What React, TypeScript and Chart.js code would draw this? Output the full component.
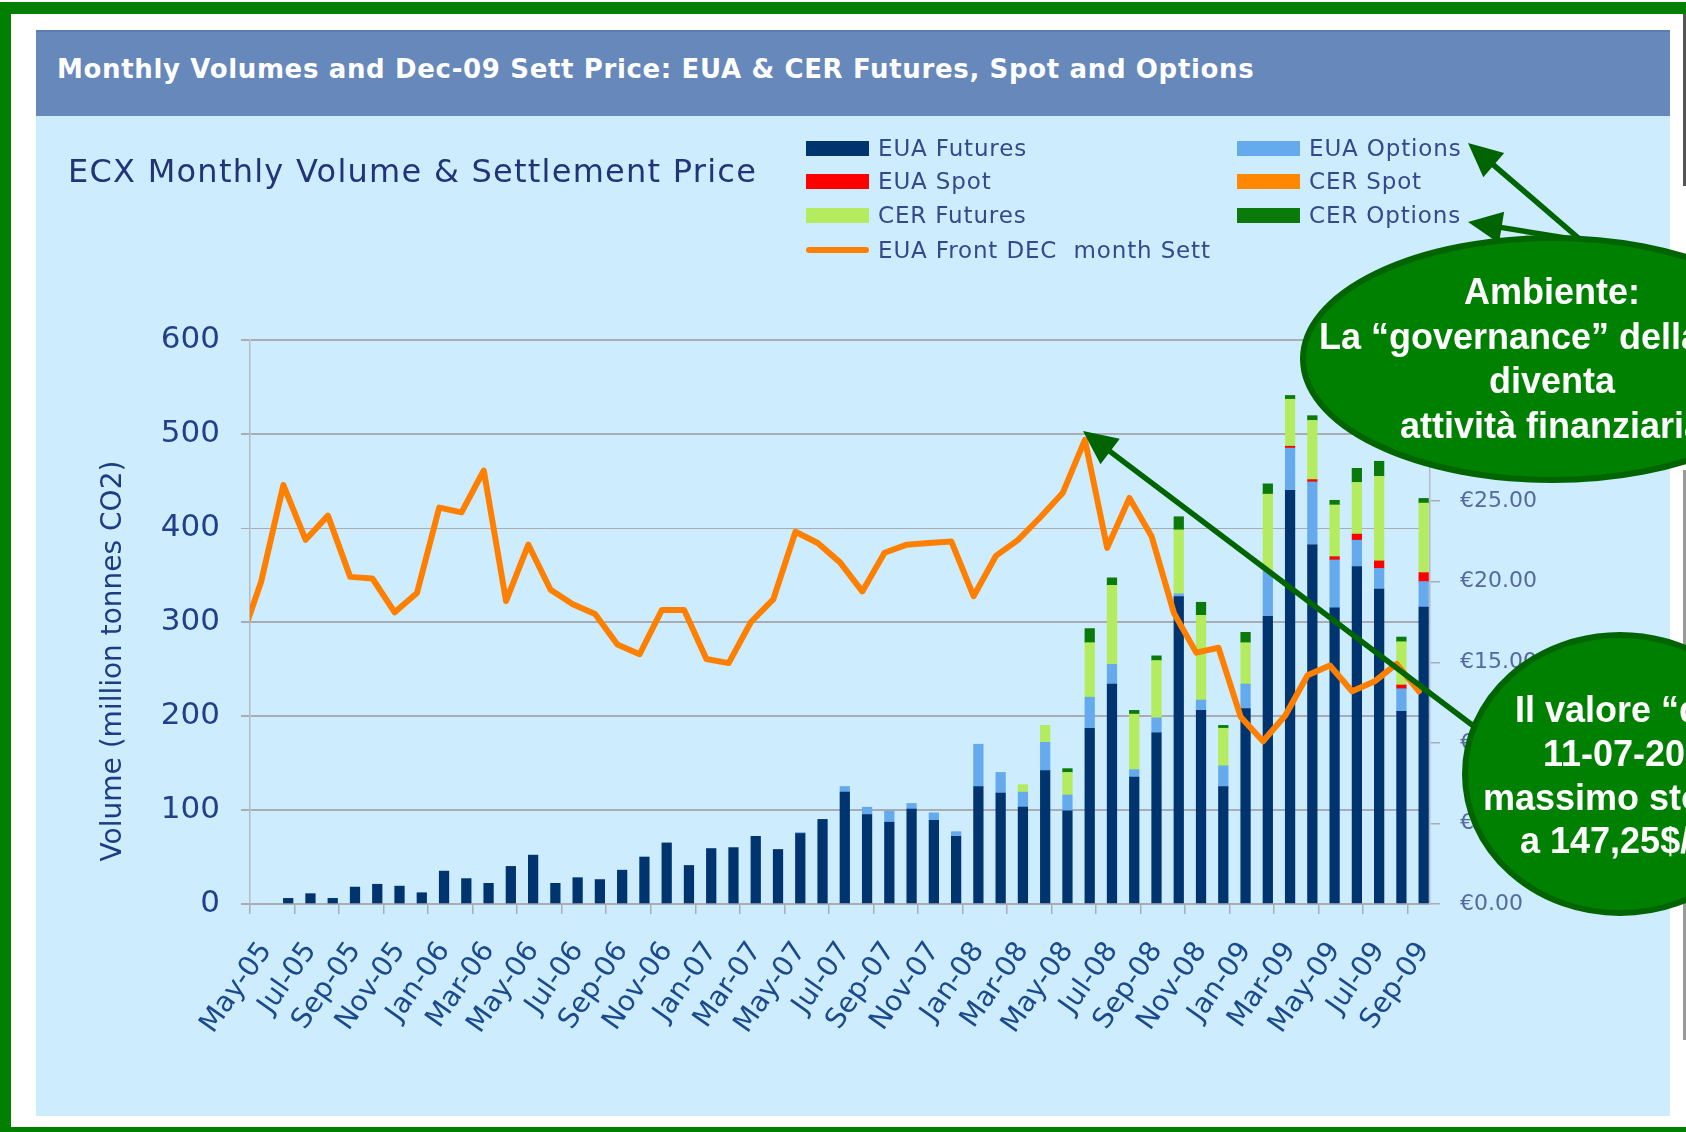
import React, { useEffect, useRef } from 'react';
import { Chart, registerables } from 'chart.js';

Chart.register(...registerables);

// ---------- DATA ----------
const months = [
  'May-05', 'Jun-05', 'Jul-05', 'Aug-05', 'Sep-05', 'Oct-05', 'Nov-05', 'Dec-05',
  'Jan-06', 'Feb-06', 'Mar-06', 'Apr-06', 'May-06', 'Jun-06', 'Jul-06', 'Aug-06', 'Sep-06', 'Oct-06', 'Nov-06', 'Dec-06',
  'Jan-07', 'Feb-07', 'Mar-07', 'Apr-07', 'May-07', 'Jun-07', 'Jul-07', 'Aug-07', 'Sep-07', 'Oct-07', 'Nov-07', 'Dec-07',
  'Jan-08', 'Feb-08', 'Mar-08', 'Apr-08', 'May-08', 'Jun-08', 'Jul-08', 'Aug-08', 'Sep-08', 'Oct-08', 'Nov-08', 'Dec-08',
  'Jan-09', 'Feb-09', 'Mar-09', 'Apr-09', 'May-09', 'Jun-09', 'Jul-09', 'Aug-09', 'Sep-09',
];

// million tonnes CO2
const euaFutures = [
  0, 6, 11, 6, 18, 21, 19, 12,
  35, 27, 22, 40, 52, 22, 28, 26, 36, 50, 65, 41,
  59, 60, 72, 58, 75, 90, 119, 95, 87, 101, 89, 72,
  125, 118, 103, 142, 99, 187, 234, 135, 182, 327, 206, 125,
  208, 306, 440, 382, 315, 359, 335, 205, 316,
];
const euaOptions = [
  0, 0, 0, 0, 0, 0, 0, 0,
  0, 0, 0, 0, 0, 0, 0, 0, 0, 0, 0, 0,
  0, 0, 0, 0, 1, 0, 6, 8, 12, 6, 8, 5,
  45, 22, 16, 30, 17, 33, 21, 8, 16, 3, 11, 22,
  26, 48, 45, 67, 51, 28, 22, 24, 27,
];
const euaSpot = [
  0, 0, 0, 0, 0, 0, 0, 0,
  0, 0, 0, 0, 0, 0, 0, 0, 0, 0, 0, 0,
  0, 0, 0, 0, 0, 0, 0, 0, 0, 0, 0, 0,
  0, 0, 0, 0, 0, 0, 0, 0, 0, 0, 0, 0,
  0, 0, 2, 2.5, 3.5, 6.5, 8, 4, 9.5,
];
const cerSpot = [
  0, 0, 0, 0, 0, 0, 0, 0,
  0, 0, 0, 0, 0, 0, 0, 0, 0, 0, 0, 0,
  0, 0, 0, 0, 0, 0, 0, 0, 0, 0, 0, 0,
  0, 0, 0, 0, 0, 0, 0, 0, 0, 0, 0, 0,
  0, 0, 0, 0, 0, 0, 0, 0, 0,
];
const cerFutures = [
  0, 0, 0, 0, 0, 0, 0, 0,
  0, 0, 0, 0, 0, 0, 0, 0, 0, 0, 0, 0,
  0, 0, 0, 0, 0, 0, 0, 0, 0, 0, 0, 0,
  0, 0, 8, 18, 24, 58, 84, 59, 61, 68, 90, 40,
  44, 82, 50, 63, 55, 55, 90, 46, 74,
];
const cerOptions = [
  0, 0, 0, 0, 0, 0, 0, 0,
  0, 0, 0, 0, 0, 0, 0, 0, 0, 0, 0, 0,
  0, 0, 0, 0, 0, 0, 0, 0, 0, 0, 0, 0,
  0, 0, 0, 0, 4, 15, 8, 4, 5, 14, 14, 3,
  11, 11, 4, 5, 5, 15, 16, 5, 5,
];

// EUA Front DEC month settlement, EUR/t  (Apr-05 .. Sep-09; Apr-05 lies just left of the plot)
const priceMonths = ['Apr-05', ...months];
const euaDecSett = [
  16.0,
  20.0, 26.0, 22.6, 24.1, 20.3, 20.2, 18.1, 19.3,
  24.6, 24.3, 26.9, 18.8, 22.3, 19.5, 18.6, 18.0, 16.1, 15.5, 18.25, 18.25,
  15.2, 14.95, 17.5, 18.9, 23.1, 22.4, 21.2, 19.4, 21.8, 22.3, 22.4, 22.5,
  19.1, 21.6, 22.6, 24.0, 25.5, 28.8, 22.1, 25.2, 22.8, 18.05, 15.6, 15.9,
  11.6, 10.1, 11.7, 14.2, 14.8, 13.2, 13.8, 14.9, 13.2,
];

const volumeTicks = { min: 0, max: 600, step: 100 };
const priceTicks = { min: 0, max: 35, step: 5 };

const seriesNames = {
  euaFut: 'EUA Futures',
  euaOpt: 'EUA Options',
  euaSpot: 'EUA Spot',
  cerSpot: 'CER Spot',
  cerFut: 'CER Futures',
  cerOpt: 'CER Options',
  line: 'EUA Front DEC  month Sett',
};

const colors = {
  euaFut: '#00346F',
  euaOpt: '#66AAEE',
  euaSpot: '#FF0000',
  cerSpot: '#FF8800',
  cerFut: '#B4EB5F',
  cerOpt: '#0A7A0A',
  line: '#FF8000',
};

// ---------- LAYOUT CONSTANTS ----------
const PANEL_L = 36;
const PANEL_T = 116;
const CANVAS_W = 1634;
const CANVAS_H = 1000;
const GRID = '#A8ADB3';
const NAVY = '#22408A';

function ChartCanvas() {
  const ref = useRef<HTMLCanvasElement | null>(null);
  useEffect(() => {
    if (!ref.current) return;
    Chart.defaults.font.family = "'DejaVu Sans', Verdana, sans-serif";
    const bar = (key: keyof typeof colors, data: number[]) => ({
      type: 'bar' as const,
      label: (seriesNames as any)[key],
      // empty months are left out so that no hairline is drawn for them
      data: data.map((v) => (v === 0 ? null : v)),
      backgroundColor: (colors as any)[key],
      borderWidth: 0,
      stack: 'vol',
      xAxisID: 'x',
      yAxisID: 'y',
      order: 1,
      barThickness: 9.6,
    });
    const chart = new Chart(ref.current, {
      type: 'bar',
      data: {
        labels: months,
        datasets: [
          {
            type: 'line',
            label: seriesNames.line,
            data: euaDecSett.map((v, k) => ({ x: k - 1, y: v, m: priceMonths[k] })),
            xAxisID: 'x2',
            yAxisID: 'y1',
            borderColor: colors.line,
            backgroundColor: colors.line,
            borderWidth: 6,
            pointRadius: 0,
            tension: 0,
            borderJoinStyle: 'round',
            borderCapStyle: 'round',
            clip: 0,
            order: 0,
          } as any,
          bar('euaFut', euaFutures),
          bar('euaOpt', euaOptions),
          bar('euaSpot', euaSpot),
          bar('cerSpot', cerSpot),
          bar('cerFut', cerFutures),
          bar('cerOpt', cerOptions),
        ],
      },
      options: {
        animation: false,
        responsive: false,
        maintainAspectRatio: false,
        layout: { padding: { top: 224, left: 0, right: 0, bottom: 0 } },
        plugins: {
          legend: { display: false },
          title: { display: false },
          tooltip: { enabled: false },
        },
        scales: {
          x: {
            type: 'category',
            stacked: true,
            offset: true,
            ticks: {
              autoSkip: false,
              minRotation: 55,
              maxRotation: 55,
              padding: 22,
              labelOffset: 5,
              color: '#1B4A8C',
              font: { size: 28 },
              callback: (_v: any, i: number) => (i % 2 === 0 ? months[i] : ''),
            },
            grid: {
              offset: true,
              drawOnChartArea: false,
              tickLength: 10,
              lineWidth: 1.5,
              tickColor: (c: any) => (typeof c.index === 'number' && c.index % 2 === 0 ? GRID : 'rgba(0,0,0,0)'),
            },
            border: { display: true, color: GRID, width: 2 },
            afterFit: (s: any) => { s.height = 212; },
          },
          x2: {
            type: 'linear',
            display: false,
            offset: false,
            grid: { offset: false },
            bounds: 'data',
            min: -0.5,
            max: months.length - 0.5,
            afterDataLimits: (s: any) => { s.min = -0.5; s.max = months.length - 0.5; },
          },
          y: {
            position: 'left',
            stacked: true,
            min: volumeTicks.min,
            max: volumeTicks.max,
            ticks: {
              stepSize: volumeTicks.step,
              padding: 21,
              color: NAVY,
              font: { size: 31 },
            },
            grid: {
              color: GRID,
              lineWidth: (c: any) => (c.tick && c.tick.value === 400 ? 1 : 2),
              tickLength: 9,
              tickColor: GRID,
            },
            border: { display: true, color: '#B6BAC6', width: 1.5 },
            afterFit: (s: any) => { s.width = 214; },
          },
          y1: {
            position: 'right',
            min: priceTicks.min,
            max: priceTicks.max,
            ticks: {
              stepSize: priceTicks.step,
              padding: 20,
              color: '#56699E',
              font: { size: 22 },
              callback: (v: any) => '€' + Number(v).toFixed(2),
            },
            grid: { drawOnChartArea: false, tickLength: 10, tickColor: GRID, lineWidth: 1.5 },
            border: { display: true, color: '#B6BAC6', width: 1.5 },
            afterFit: (s: any) => { s.width = 240; },
          },
        },
      } as any,
    });
    return () => chart.destroy();
  }, []);
  return (
    <canvas
      ref={ref}
      width={CANVAS_W}
      height={CANVAS_H}
      style={{ position: 'absolute', left: 0, top: 0, width: CANVAS_W, height: CANVAS_H }}
    />
  );
}

function LegendItem({ x, y, color, text, line }: { x: number; y: number; color: string; text: string; line?: boolean }) {
  return (
    <div style={{ position: 'absolute', left: x, top: y - 16, height: 32, display: 'flex', alignItems: 'center', whiteSpace: 'pre' }}>
      <div style={{ width: 63, height: line ? 6 : 15, background: color, borderRadius: line ? 3 : 0 }} />
      <span style={{ marginLeft: 9, fontSize: 23, letterSpacing: 0.85, color: '#36488C', fontFamily: "'DejaVu Sans', sans-serif", whiteSpace: 'pre' }}>{text}</span>
    </div>
  );
}

function Arrow({ x1, y1, x2, y2 }: { x1: number; y1: number; x2: number; y2: number }) {
  const ang = Math.atan2(y2 - y1, x2 - x1);
  const L = 34, W = 16;
  const bx = x2 - L * Math.cos(ang), by = y2 - L * Math.sin(ang);
  const px = -Math.sin(ang) * W, py = Math.cos(ang) * W;
  return (
    <g>
      <line x1={x1} y1={y1} x2={bx + 4 * Math.cos(ang)} y2={by + 4 * Math.sin(ang)} stroke="#006400" strokeWidth={5.5} />
      <polygon points={`${x2},${y2} ${bx + px},${by + py} ${bx - px},${by - py}`} fill="#006400" />
    </g>
  );
}

const bubbleText: React.CSSProperties = {
  position: 'absolute',
  color: '#FFFFFF',
  fontFamily: "'Liberation Sans', Arial, sans-serif",
  fontWeight: 'bold',
  fontSize: 36,
  lineHeight: '44.5px',
  whiteSpace: 'nowrap',
};

export default function App() {
  const green = '#007F00';
  return (
    <div style={{ position: 'fixed', left: 0, top: 0, width: 1686, height: 1132, background: '#FFFFFF', overflow: 'hidden' }}>
      {/* green frame */}
      <div style={{ position: 'absolute', left: 0, top: 2, width: 1686, height: 12, background: green }} />
      <div style={{ position: 'absolute', left: 0, top: 2, width: 11, height: 1130, background: green }} />
      <div style={{ position: 'absolute', left: 0, top: 1127, width: 1686, height: 5, background: green }} />
      <div style={{ position: 'absolute', left: 1683, top: 14, width: 3, height: 172, background: '#555' }} />
      <div style={{ position: 'absolute', left: 1683, top: 470, width: 3, height: 570, background: '#9A9A9A' }} />

      {/* header */}
      <div style={{ position: 'absolute', left: PANEL_L, top: 30, width: CANVAS_W, height: 86, background: '#6688BB', borderTop: '2px solid #5C7DB3', boxSizing: 'border-box' }}>
        <div style={{ position: 'absolute', left: 21, top: 22, color: '#FFFFFF', fontFamily: "'DejaVu Sans', sans-serif", fontWeight: 'bold', fontSize: 26, whiteSpace: 'nowrap', letterSpacing: 0.65 }}>
          Monthly Volumes and Dec-09 Sett Price: EUA &amp; CER Futures, Spot and Options
        </div>
      </div>

      {/* panel body with the chart */}
      <div style={{ position: 'absolute', left: PANEL_L, top: PANEL_T, width: CANVAS_W, height: CANVAS_H, background: '#CDEDFE' }}>
        <ChartCanvas />
      </div>

      {/* subtitle */}
      <div style={{ position: 'absolute', left: 68, top: 152, color: '#223377', fontFamily: "'DejaVu Sans', sans-serif", fontSize: 32, letterSpacing: 1.25, whiteSpace: 'nowrap' }}>
        ECX Monthly Volume &amp; Settlement Price
      </div>

      {/* legend */}
      <LegendItem x={806} y={148} color={colors.euaFut} text={seriesNames.euaFut} />
      <LegendItem x={806} y={181} color={colors.euaSpot} text={seriesNames.euaSpot} />
      <LegendItem x={806} y={215} color={colors.cerFut} text={seriesNames.cerFut} />
      <LegendItem x={806} y={250} color={colors.line} text={seriesNames.line} line />
      <LegendItem x={1237} y={148} color={colors.euaOpt} text={seriesNames.euaOpt} />
      <LegendItem x={1237} y={181} color={colors.cerSpot} text={seriesNames.cerSpot} />
      <LegendItem x={1237} y={215} color={colors.cerOpt} text={seriesNames.cerOpt} />

      {/* y axis title */}
      <div style={{ position: 'absolute', left: 111, top: 661, transform: 'translate(-50%, -50%) rotate(-90deg)', color: '#1E3C82', fontFamily: "'DejaVu Sans', sans-serif", fontSize: 28, whiteSpace: 'nowrap' }}>
        Volume (million tonnes CO2)
      </div>

      {/* annotations */}
      <svg width={1686} height={1132} style={{ position: 'absolute', left: 0, top: 0, pointerEvents: 'none' }}>
        <Arrow x1={1583} y1={242} x2={1468} y2={143} />
        <Arrow x1={1578} y1={240} x2={1468} y2={222} />
        <Arrow x1={1492} y1={740} x2={1083} y2={431} />
        <ellipse cx={1552} cy={359} rx={249} ry={121} fill="#008000" stroke="#006400" strokeWidth={6} />
        <ellipse cx={1620} cy={774} rx={155} ry={139} fill="#008000" stroke="#006400" strokeWidth={6} />
      </svg>

      <div style={{ ...bubbleText, left: 1152, top: 270, width: 800, textAlign: 'center' }}>
        Ambiente:<br />
        La “governance” della CO2<br />
        diventa<br />
        attività finanziaria
      </div>
      <div style={{ ...bubbleText, left: 1515, top: 688 }}>Il valore “del petrolio” l’</div>
      <div style={{ ...bubbleText, left: 1543, top: 732 }}>11-07-2008 ha raggiunto il</div>
      <div style={{ ...bubbleText, left: 1483, top: 776 }}>massimo storico pari</div>
      <div style={{ ...bubbleText, left: 1520, top: 819 }}>a 147,25$/barile</div>
    </div>
  );
}
